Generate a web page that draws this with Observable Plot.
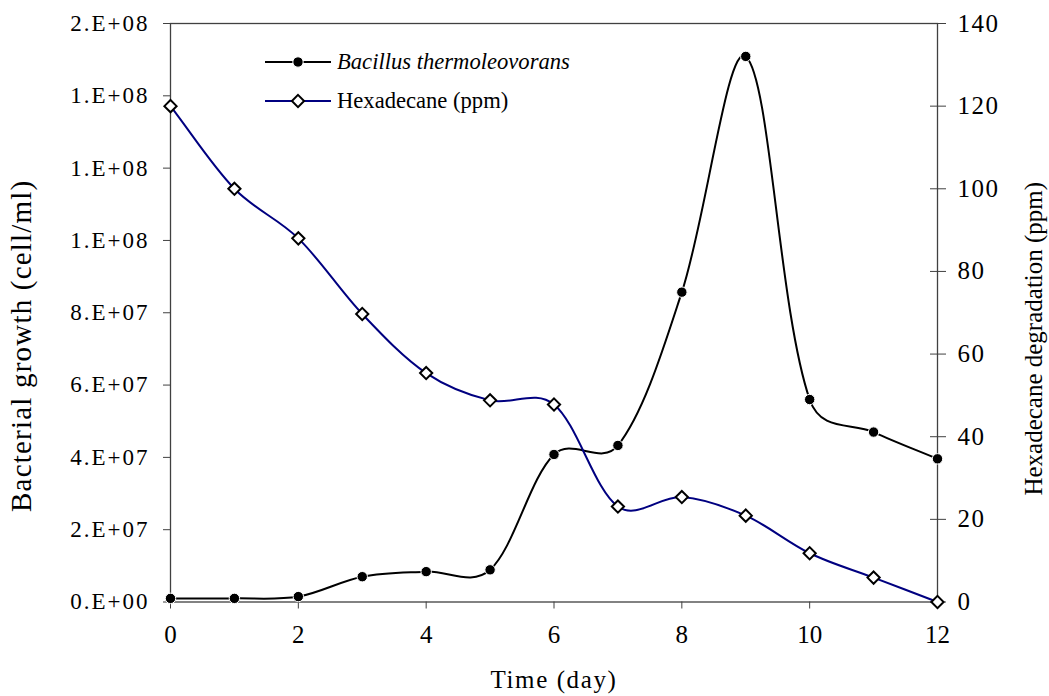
<!DOCTYPE html>
<html>
<head>
<meta charset="utf-8">
<script src="https://cdn.jsdelivr.net/npm/d3@7"></script>
<script src="https://cdn.jsdelivr.net/npm/@observablehq/plot@0.6"></script>
<style>
  html, body { margin: 0; padding: 0; background: white; }
  #chart svg { display: block; }
</style>
</head>
<body>
<div id="chart"></div>
<script>
// ---- data ----
const days = [0, 1, 2, 3, 4, 5, 6, 7, 8, 9, 10, 11, 12];
const bacteria = [1.0e6, 1.0e6, 1.5e6, 7.0e6, 8.4e6, 8.9e6, 4.08e7, 4.33e7, 8.57e7, 1.509e8, 5.6e7, 4.7e7, 3.96e7];
const hexadecane = [120, 100, 88, 69.7, 55.4, 48.8, 47.8, 23.1, 25.4, 20.9, 11.8, 5.9, 0];
const xTicks = [0, 2, 4, 6, 8, 10, 12];
const leftTicks = [0, 2e7, 4e7, 6e7, 8e7, 1.0e8, 1.2e8, 1.4e8, 1.6e8];
const leftTickLabels = ["0.E+00", "2.E+07", "4.E+07", "6.E+07", "8.E+07", "1.E+08", "1.E+08", "1.E+08", "2.E+08"];
const rightTicks = [0, 20, 40, 60, 80, 100, 120, 140];
const seriesNames = ["Bacillus thermoleovorans", "Hexadecane (ppm)"];
const xTitle = "Time (day)";
const yLeftTitle = "Bacterial growth (cell/ml)";
const yRightTitle = "Hexadecane degradation (ppm)";

const leftMax = 1.6e8, rightMax = 140;
const k = leftMax / rightMax; // right-axis value -> left scale

const bacData = days.map((d, i) => ({day: d, v: bacteria[i]}));
const hexData = days.map((d, i) => ({day: d, v: hexadecane[i] * k}));

const font = "'Liberation Serif', 'Times New Roman', serif";
const axisColor = "#404040";
const navy = "#000080";

// Spreadsheet-style smoothed line: Bezier segments with chord-weighted tangents
function smoothCurve(context) {
  let pts;
  const s = 0.5;
  const dist = (a, b) => Math.hypot(b[0] - a[0], (b[1] - a[1]) * s);
  return {
    areaStart() {}, areaEnd() {},
    lineStart() { pts = []; },
    point(x, y) { pts.push([+x, +y]); },
    lineEnd() {
      const n = pts.length;
      if (!n) return;
      context.moveTo(pts[0][0], pts[0][1]);
      for (let i = 0; i < n - 1; i++) {
        const p0 = pts[i > 0 ? i - 1 : i], p1 = pts[i], p2 = pts[i + 1], p3 = pts[i + 2 < n ? i + 2 : i + 1];
        const d01 = dist(p0, p1), d12 = dist(p1, p2), d23 = dist(p2, p3);
        const f1 = d12 / ((d01 + d12) || 1) / 3;
        const f2 = d12 / ((d12 + d23) || 1) / 3;
        context.bezierCurveTo(
          p1[0] + (p2[0] - p0[0]) * f1, p1[1] + (p2[1] - p0[1]) * f1,
          p2[0] - (p3[0] - p1[0]) * f2, p2[1] - (p3[1] - p1[1]) * f2,
          p2[0], p2[1]);
      }
    }
  };
}

const chart = Plot.plot({
  width: 1049,
  height: 696,
  marginLeft: 170,
  marginRight: 112,
  marginTop: 23,
  marginBottom: 94.5,
  style: {fontFamily: font, background: "white", color: "black"},
  x: {domain: [0, 12]},
  y: {domain: [0, leftMax]},
  marks: [
    Plot.frame({stroke: axisColor, strokeWidth: 1.3}),
    Plot.axisX({ticks: xTicks, tickSize: 7, tickPadding: 16, fontSize: 25, stroke: axisColor, fill: "black", label: null}),
    Plot.axisY({anchor: "left", ticks: leftTicks, tickSize: 7, tickPadding: 14, fontSize: 23,
      tickFormat: v => leftTickLabels[leftTicks.indexOf(v)], stroke: axisColor, fill: "black", label: null}),
    Plot.axisY({anchor: "right", ticks: rightTicks.map(v => v * k), tickSize: 8, tickPadding: 12, fontSize: 25,
      tickFormat: v => String(Math.round(v / k)), stroke: axisColor, fill: "black", label: null}),
    Plot.axisY({anchor: "right", ticks: rightTicks.map(v => v * k), tickSize: 8, dx: -8, text: null, stroke: axisColor, label: null}),
    Plot.line(bacData, {x: "day", y: "v", curve: smoothCurve, stroke: "black", strokeWidth: 2}),
    Plot.line(hexData, {x: "day", y: "v", curve: smoothCurve, stroke: navy, strokeWidth: 2}),
    Plot.dot(bacData, {x: "day", y: "v", r: 5.2, fill: "black", stroke: "white", strokeWidth: 1}),
    Plot.dot(hexData, {x: "day", y: "v", r: 5.5, symbol: "diamond2", fill: "white", stroke: "black", strokeWidth: 2}),
    Plot.text([xTitle], {frameAnchor: "bottom", dy: 78, fontSize: 25, lineAnchor: "middle", textAnchor: "middle"}),
    Plot.text([yLeftTitle], {frameAnchor: "left", dx: -149, dy: 33, rotate: -90, fontSize: 29, lineAnchor: "middle", textAnchor: "middle"}),
    Plot.text([yRightTitle], {frameAnchor: "right", dx: 96, dy: 26, rotate: -90, fontSize: 25, lineAnchor: "middle", textAnchor: "middle"})
  ]
});

document.getElementById("chart").appendChild(chart);

// letter spacing tweaks to mimic the stretched original text
const svg = d3.select(chart);
const yLabelGroups = svg.selectAll('g[aria-label="y-axis tick label"]').nodes();
if (yLabelGroups[0]) d3.select(yLabelGroups[0]).selectAll("text").style("letter-spacing", "2px");
if (yLabelGroups[1]) d3.select(yLabelGroups[1]).selectAll("text").style("letter-spacing", "1.5px");
svg.selectAll('g[aria-label="text"] text').each(function() {
  const t = d3.select(this).text();
  if (t === xTitle) d3.select(this).style("letter-spacing", "1.6px");
  if (t === yLeftTitle) d3.select(this).style("letter-spacing", "1.2px");
});

// legend inside the plot area
const legend = svg.append("g").attr("font-family", font).attr("font-size", 22.6).attr("text-anchor", "start");
const rows = [
  {name: seriesNames[0], color: "black", marker: "dot", italic: true, y: 62},
  {name: seriesNames[1], color: navy, marker: "diamond", italic: false, y: 101}
];
rows.forEach(r => {
  legend.append("line").attr("x1", 265).attr("x2", 331).attr("y1", r.y).attr("y2", r.y)
    .attr("stroke", r.color).attr("stroke-width", 2);
  if (r.marker === "dot") {
    legend.append("circle").attr("cx", 298).attr("cy", r.y).attr("r", 5.2).attr("fill", "black")
      .attr("stroke", "white").attr("stroke-width", 1);
  } else {
    legend.append("path").attr("transform", `translate(298,${r.y})`)
      .attr("d", d3.symbol(d3.symbolDiamond2, 5.5 * 5.5 * Math.PI)())
      .attr("fill", "white").attr("stroke", "black").attr("stroke-width", 2);
  }
  legend.append("text").attr("x", 337).attr("y", r.y + 7).attr("text-anchor", "start")
    .attr("font-style", r.italic ? "italic" : "normal").attr("fill", "black").text(r.name);
});
</script>
</body>
</html>
